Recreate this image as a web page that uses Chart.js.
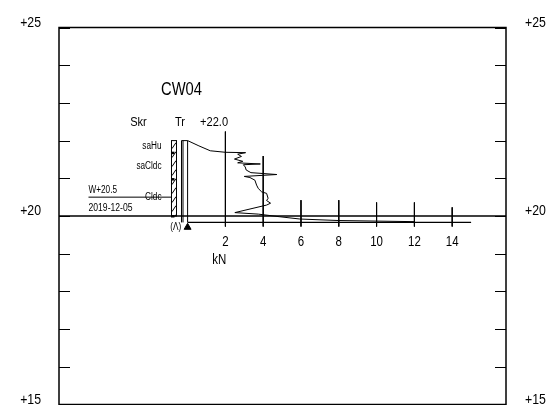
<!DOCTYPE html>
<html>
<head>
<meta charset="utf-8">
<script src="https://cdn.jsdelivr.net/npm/chart.js@4.4.0/dist/chart.umd.min.js"></script>
<style>
  html, body { margin: 0; padding: 0; background: #fff; overflow: hidden; }
  canvas { display: block; }
</style>
</head>
<body>
<canvas id="c" width="548" height="405"></canvas>
<script>
// Sounding CW04: penetration force (kN) plotted against elevation (m)
const boreholeId = 'CW04';
const groundLevel = 22.0;
const stopLevel = 19.83;
const waterLevel = 20.5;
const waterDate = '2019-12-05';
const elevationMin = 15;
const elevationMax = 25;
const elevationLabels = [15, 20, 25];
const datumLevel = 20;

// force curve (kN) and the elevation of each reading
const forceKN = [0, 0.6, 1.2, 2.0, 3.07, 2.65, 2.85, 2.48, 2.92, 2.65, 3.85, 2.95, 3.05, 3.1, 3.35, 4.72, 3.0, 3.3,
  3.56, 3.65, 3.74, 3.92, 4.18, 4.26, 4.18, 4.39, 4.18, 2.5, 3.74, 4.88, 5.94, 7.97, 12.0];
const forceElev = [22.0, 21.86, 21.73, 21.69, 21.68, 21.64, 21.58, 21.51, 21.45, 21.41, 21.38, 21.36, 21.3, 21.22, 21.15, 21.1, 21.05, 21.02,
  20.95, 20.82, 20.73, 20.64, 20.6, 20.47, 20.41, 20.34, 20.29, 20.09, 20.05, 19.98, 19.92, 19.88, 19.85];

// soil layers
const layerNames = ['saHu', 'saCldc', 'Cldc'];
const layerTops = [22.0, 21.68, 20.98];
const layerBottoms = [21.68, 20.98, 20.0];

// force scale ticks and the upper end of each tick line
const kNTicks = [2, 4, 6, 8, 10, 12, 14];
const kNTickTops = [22.24, 21.59, 20.42, 20.42, 20.36, 20.36, 20.23];
const kNAxisEnd = 15;

// drawing constants
const FONT = '"Liberation Sans", Arial, sans-serif';
const NARROW = 0.82;
const X_MIN = -6.804, X_MAX = 16.847;
const COL = { hatchL: -0.852, hatchR: -0.587, trL: -0.323, trM: -0.243, trR: 0 };

const line = (pts, w) => ({
  data: pts, showLine: true, borderColor: '#000', borderWidth: w,
  pointRadius: 0, fill: false, tension: 0
});

const datasets = [
  line(forceKN.map((x, i) => ({ x, y: forceElev[i] })), 1),
  line([{ x: 0, y: stopLevel }, { x: kNAxisEnd, y: stopLevel }], 1.3),
  line([{ x: X_MIN, y: datumLevel }, { x: X_MAX, y: datumLevel }], 1.3),
  ...kNTicks.map((k, i) => line([{ x: k, y: kNTickTops[i] }, { x: k, y: stopLevel - 0.11 }], 1)),
  {
    data: [{ x: 0, y: stopLevel - 0.13 }], showLine: false, pointStyle: 'triangle',
    pointRadius: 4, backgroundColor: '#000', borderColor: '#000', borderWidth: 1
  }
];

// condensed text helper
function label(ctx, str, x, y, size, align) {
  ctx.save();
  ctx.font = size + 'px ' + FONT;
  ctx.textAlign = align;
  ctx.textBaseline = 'middle';
  ctx.translate(x, y);
  ctx.scale(NARROW, 1);
  ctx.fillText(str, 0, 0);
  ctx.restore();
}

const decor = {
  id: 'decor',
  beforeDatasetsDraw(chart) {
    const { ctx, chartArea: a } = chart;
    const ys = chart.scales.y;
    ctx.save();
    ctx.strokeStyle = '#000';
    ctx.fillStyle = '#000';
    ctx.lineWidth = 1.5;
    ctx.strokeRect(a.left, a.top, a.right - a.left, a.bottom - a.top);
    ctx.lineWidth = 1;
    ctx.beginPath();
    for (let v = elevationMin; v <= elevationMax; v++) {
      const y = Math.round(ys.getPixelForValue(v)) + 0.5;
      ctx.moveTo(a.left, y); ctx.lineTo(a.left + 11, y);
      ctx.moveTo(a.right - 11, y); ctx.lineTo(a.right, y);
    }
    ctx.stroke();
    elevationLabels.forEach(v => {
      const y = ys.getPixelForValue(v) - 5;
      label(ctx, '+' + v, a.left - 18, y, 15, 'right');
      label(ctx, '+' + v, a.right + 19, y, 15, 'left');
    });
    ctx.restore();
  },
  afterDatasetsDraw(chart) {
    const { ctx } = chart;
    const px = v => chart.scales.x.getPixelForValue(v);
    const py = v => chart.scales.y.getPixelForValue(v);
    ctx.save();
    ctx.strokeStyle = '#000';
    ctx.fillStyle = '#000';
    ctx.lineWidth = 1;

    // soil column with hatching
    const l = px(COL.hatchL), r = px(COL.hatchR);
    const t = py(groundLevel), b = py(layerBottoms[layerBottoms.length - 1]);
    ctx.strokeRect(l, t, r - l, b - t);
    ctx.save();
    ctx.beginPath(); ctx.rect(l, t, r - l, b - t); ctx.clip();
    ctx.beginPath();
    for (let y = t + 8; y < b + 7; y += 9) { ctx.moveTo(l + 0.5, y); ctx.lineTo(r - 0.5, y - 6); }
    ctx.stroke();
    ctx.restore();
    layerBottoms.forEach(e => ctx.fillRect(l - 0.5, py(e) - 1, (r - l) * 0.7, 2.5));

    // sounding rod column
    const sb = py(stopLevel);
    ctx.beginPath();
    ctx.moveTo(px(COL.trL), t); ctx.lineTo(px(COL.trL), sb);
    ctx.moveTo(px(COL.trM), t); ctx.lineTo(px(COL.trM), sb);
    ctx.moveTo(px(COL.trR), t); ctx.lineTo(px(COL.trR), sb);
    ctx.moveTo(px(COL.trL), t); ctx.lineTo(px(COL.trR), t);
    // groundwater line
    const wy = py(waterLevel);
    ctx.moveTo(l - 83, wy); ctx.lineTo(l, wy);
    ctx.stroke();

    // titles
    label(ctx, boreholeId, l + 10, t - 51, 18, 'center');
    label(ctx, 'Skr', l - 33, t - 18.5, 13.5, 'center');
    label(ctx, 'Tr', px(COL.trL) - 1.5, t - 18.5, 13.5, 'center');
    label(ctx, '+' + groundLevel.toFixed(1), px(0) + 12.5, t - 18.5, 13.5, 'left');

    // layer names
    layerNames.forEach((n, i) => label(ctx, n, l - 10, py((layerTops[i] + layerBottoms[i]) / 2), 10, 'right'));

    // groundwater text
    label(ctx, 'W+' + waterLevel.toFixed(1), l - 83, wy - 7, 10, 'left');
    label(ctx, waterDate, l - 83, wy + 10.6, 10.5, 'left');

    // stop code under the column
    label(ctx, '(\u039B)', l + 4.3, sb + 4.4, 10, 'center');

    // force scale labels
    kNTicks.forEach(k => label(ctx, String(k), px(k), sb + 19.4, 14, 'center'));
    label(ctx, 'kN', px(1.68), sb + 37.7, 14, 'center');
    ctx.restore();
  }
};

new Chart(document.getElementById('c'), {
  type: 'scatter',
  data: { datasets },
  options: {
    responsive: false,
    maintainAspectRatio: false,
    animation: false,
    events: [],
    layout: { autoPadding: false, padding: { left: 59, right: 42, top: 27.5, bottom: 0.5 } },
    plugins: { legend: { display: false }, tooltip: { enabled: false } },
    scales: {
      x: { type: 'linear', min: X_MIN, max: X_MAX, display: false },
      y: { type: 'linear', min: elevationMin, max: elevationMax, display: false }
    }
  },
  plugins: [decor]
});
</script>
</body>
</html>
